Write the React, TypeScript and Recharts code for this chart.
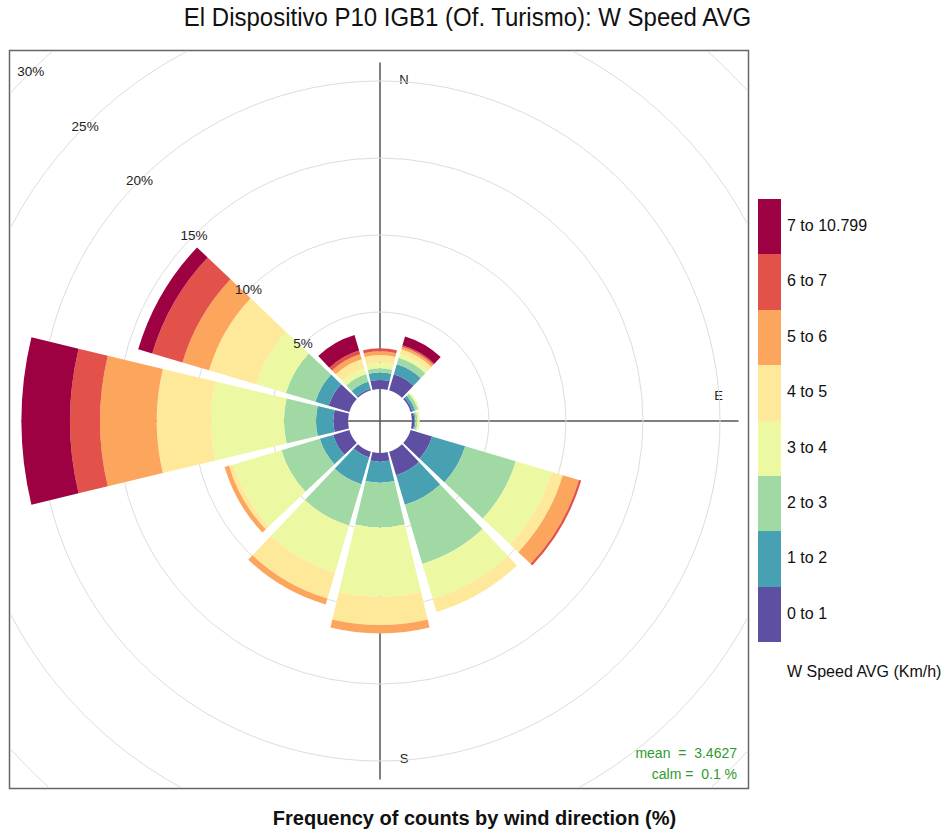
import { RadialBarChart, RadialBar, PolarAngleAxis, PolarRadiusAxis, PolarGrid } from 'recharts'

// wind directions (degrees, clockwise from N)
const directions = ['0', '30', '60', '90', '120', '150', '180', '210', '240', '270', '300', '330']

// frequency (%) per speed band, per direction
const speed0to1 = [0.58, 1.08, 0.12, 0.15, 1.45, 1.6, 0.56, 0.39, 1.1, 0.95, 1.4, 0.1]
const speed1to2 = [0.49, 0.68, 0.18, 0.07, 2.24, 2.0, 1.37, 1.81, 0.9, 1.13, 0.9, 0.5]
const speed2to3 = [0.28, 0.44, 0.2, 0.13, 3.43, 4.0, 2.9, 2.8, 2.6, 2.08, 2.0, 0.5]
const speed3to4 = [0.37, 0.25, 0.12, 0.15, 2.45, 2.4, 4.5, 3.2, 3.25, 4.74, 2.0, 0.4]
const speed4to5 = [0.48, 0.33, 0, 0, 0.73, 0.85, 1.84, 1.75, 0.3, 3.52, 3.2, 0.6]
const speed5to6 = [0.25, 0.17, 0, 0, 1.1, 0, 0.54, 0.4, 0.3, 3.68, 1.8, 0.35]
const speed6to7 = [0.19, 0.1, 0, 0, 0.15, 0, 0, 0, 0, 1.95, 2.05, 0.25]
const speed7plus = [0, 0.6, 0, 0, 0, 0, 0, 0, 0, 3.15, 0.95, 1.05]

const bandLabels = ['0 to 1', '1 to 2', '2 to 3', '3 to 4', '4 to 5', '5 to 6', '6 to 7', '7 to 10.799']
const bandColors = ['#5E4FA2', '#48A1B3', '#A1D9A4', '#EDF8A3', '#FEE99A', '#FCA55D', '#E2524A', '#9E0142']
const bandSeries = [speed0to1, speed1to2, speed2to3, speed3to4, speed4to5, speed5to6, speed6to7, speed7plus]

const percentTicks = [5, 10, 15, 20, 25, 30]

const FONT = '"Liberation Sans", Arial, Helvetica, sans-serif'
const INNER = 32
const OUTER = 494
const MAX_PCT = 30
const CX = 380
const CY = 421

const chartData = directions.map((dir, i) => {
  const row: Record<string, number | string> = { dir }
  bandSeries.forEach((s, b) => { row[`b${b}`] = s[i] })
  return row
})

const maxTotal = Math.max(...directions.map((_, i) => bandSeries.reduce((s, arr) => s + arr[i], 0)))
const axisLen = INNER + (maxTotal / MAX_PCT) * (OUTER - INNER)

const PctTick = (props: any) => (
  <text x={props.x} y={props.y} textAnchor="middle" dominantBaseline="central"
    fontSize={13.5} fill="#222" fontFamily={FONT}>
    {props.payload.value}%
  </text>
)

export default function App() {
  return (
    <div style={{ position: 'absolute', left: 0, top: 0, width: 946, height: 830, background: '#fff', fontFamily: FONT, overflow: 'hidden' }}>
      {/* panel, cross axes and compass letters (underneath the bars) */}
      <svg width={946} height={830} style={{ position: 'absolute', left: 0, top: 0 }} fontFamily={FONT}>
        <line x1={CX} y1={CY - axisLen} x2={CX} y2={CY + axisLen} stroke="#555" strokeWidth={1.5} />
        <line x1={CX - axisLen} y1={CY} x2={CX + axisLen} y2={CY} stroke="#555" strokeWidth={1.5} />
        <text x={CX + 24} y={CY - axisLen + 21} fontSize={13} textAnchor="middle" fill="#222">N</text>
        <text x={CX + axisLen - 20} y={CY - 21} fontSize={13} textAnchor="middle" fill="#222">E</text>
        <text x={CX + 24} y={CY + axisLen - 16} fontSize={13} textAnchor="middle" fill="#222">S</text>
        <text x={CX - axisLen + 20} y={CY - 21} fontSize={13} textAnchor="middle" fill="#222">W</text>
        <rect x={9.5} y={50.5} width={739} height={738} fill="none" stroke="#666" strokeWidth={1.5} />
        <text x={467.5} y={26} fontSize={26} textAnchor="middle" fill="#111"
          transform="translate(467.5 0) scale(0.923 1) translate(-467.5 0)">
          El Dispositivo P10 IGB1 (Of. Turismo): W Speed AVG
        </text>
        <text x={474.5} y={825} fontSize={20} fontWeight={700} textAnchor="middle" fill="#111">
          Frequency of counts by wind direction (%)
        </text>
      </svg>

      <div style={{ position: 'absolute', left: 10, top: 51 }}>
        <RadialBarChart
          width={738} height={737} cx={370} cy={370}
          innerRadius={INNER} outerRadius={OUTER}
          startAngle={75} endAngle={-285}
          layout="centric" data={chartData} barCategoryGap="5%"
          margin={{ top: 0, right: 0, bottom: 0, left: 0 }}
        >
          <PolarGrid gridType="circle" radialLines={false} stroke="#dddddd" />
          <PolarAngleAxis type="category" dataKey="dir" tick={false} axisLine={false} tickLine={false} />
          {bandSeries.map((_, b) => (
            <RadialBar key={b} dataKey={`b${b}`} stackId="a" fill={bandColors[b]} isAnimationActive={false} />
          ))}
          <PolarRadiusAxis type="number" domain={[0, MAX_PCT]} ticks={percentTicks} angle={135}
            axisLine={false} tickLine={false} tick={<PctTick />} />
        </RadialBarChart>
      </div>

      {/* stats */}
      <div style={{ position: 'absolute', right: 946 - 737, top: 743, color: '#2f9a2f', fontSize: 14, textAlign: 'right', lineHeight: '21px', whiteSpace: 'pre' }}>
        <div>{'mean  =  3.4627'}</div>
        <div>{'calm =  0.1 %'}</div>
      </div>

      {/* legend */}
      {bandLabels.map((lab, b) => {
        const idx = bandLabels.length - 1 - b
        const top = 199 + b * 55.4
        return (
          <div key={lab}>
            <div style={{ position: 'absolute', left: 758, top, width: 23, height: 55.4, background: bandColors[idx] }} />
            <div style={{ position: 'absolute', left: 787, top: top + 17, fontSize: 16, color: '#111', lineHeight: '20px', whiteSpace: 'nowrap' }}>{bandLabels[idx]}</div>
          </div>
        )
      })}
      <div style={{ position: 'absolute', left: 787, top: 662, fontSize: 16, color: '#111', lineHeight: '20px', whiteSpace: 'nowrap' }}>
        W Speed AVG (Km/h)
      </div>
    </div>
  )
}
